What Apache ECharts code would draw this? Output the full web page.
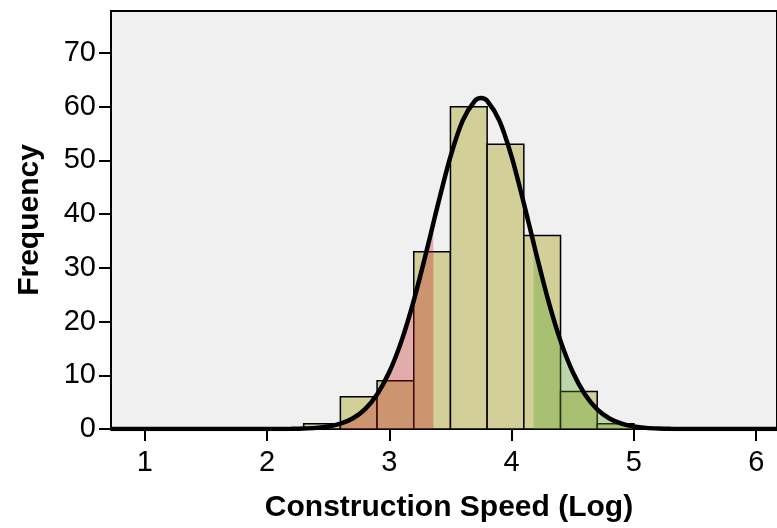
<html lang="en">
<head>
    <meta charset="UTF-8">
    <title>Construction Speed histogram</title>
    <script src="https://cdn.jsdelivr.net/npm/echarts@6/dist/echarts.min.js"></script>
</head>
<style>
    html, body { margin: 0; padding: 0; background: #fff; }
    #container { width: 777px; height: 528px; }
</style>
<body>
<div id="container"></div>
<script>
    // histogram bins (log construction speed), width 0.3
    var binStart = [2.3, 2.6, 2.9, 3.2, 3.5, 3.8, 4.1, 4.4, 4.7];
    var binEnd   = [2.6, 2.9, 3.2, 3.5, 3.8, 4.1, 4.4, 4.7, 5.0];
    var counts   = [1, 6, 9, 33, 60, 53, 36, 7, 1];

    // fitted normal curve
    var curveX = [0.72, 2.0, 2.1, 2.2, 2.3, 2.4, 2.5, 2.6, 2.7, 2.8, 2.9, 3.0, 3.1, 3.2, 3.3, 3.36, 3.4, 3.5, 3.6, 3.7, 3.75,
                  3.8, 3.9, 4.0, 4.1, 4.18, 4.2, 4.3, 4.4, 4.5, 4.6, 4.7, 4.8, 4.9, 5.0, 5.1, 5.2, 5.3, 5.4, 5.5, 6.17];
    var curveY = [0, 0, 0.01, 0.03, 0.09, 0.21, 0.47, 0.99, 1.96, 3.67, 6.44, 10.6, 16.4, 23.9, 32.7, 38.3, 42.0, 50.7, 57.4, 61.1, 61.6,
                  61.1, 57.4, 50.7, 42.0, 34.6, 32.7, 23.9, 16.4, 10.6, 6.44, 3.67, 1.96, 0.99, 0.47, 0.21, 0.09, 0.03, 0.01, 0, 0];

    // shaded tails (below mean - sd, above mean + sd)
    var lowTailStart = 2.6, lowTailEnd = 3.36;
    var highTailStart = 4.18, highTailEnd = 5.0;

    var xTicks = [1, 2, 3, 4, 5, 6];
    var yTicks = [0, 10, 20, 30, 40, 50, 60, 70];

    var chart = echarts.init(document.getElementById('container'));

    var bins = [];
    for (var i = 0; i < counts.length; i++) {
        bins.push([binStart[i], binEnd[i], counts[i]]);
    }
    var curve = [], lowTail = [], highTail = [];
    for (var j = 0; j < curveX.length; j++) {
        curve.push([curveX[j], curveY[j]]);
        if (curveX[j] >= lowTailStart && curveX[j] <= lowTailEnd) lowTail.push([curveX[j], curveY[j]]);
        if (curveX[j] >= highTailStart && curveX[j] <= highTailEnd) highTail.push([curveX[j], curveY[j]]);
    }

    var fontFamily = 'Liberation Sans, Arial, sans-serif';

    var option = {
        animation: false,
        grid: {
            left: 111,
            top: 11,
            right: 0,
            bottom: 98,
            show: true,
            backgroundColor: '#f0f0f0',
            borderColor: '#000',
            borderWidth: 2
        },
        xAxis: {
            type: 'value',
            min: 0.7245,
            max: 6.17,
            name: 'Construction Speed (Log)',
            nameLocation: 'middle',
            nameGap: 64,
            nameTextStyle: { fontFamily: fontFamily, fontSize: 30, fontWeight: 'bold', color: '#000', padding: [0, 0, 0, 10] },
            axisLine: { lineStyle: { color: '#000', width: 2 } },
            axisTick: { customValues: xTicks, length: 12, lineStyle: { color: '#000', width: 2 } },
            axisLabel: { customValues: xTicks, margin: 19, fontFamily: fontFamily, fontSize: 29, color: '#000' },
            splitLine: { show: false }
        },
        yAxis: {
            type: 'value',
            min: 0,
            max: 77.8,
            name: 'Frequency',
            nameLocation: 'middle',
            nameGap: 66,
            nameTextStyle: { fontFamily: fontFamily, fontSize: 30, fontWeight: 'bold', color: '#000' },
            axisLine: { show: true, lineStyle: { color: '#000', width: 2 } },
            axisTick: { show: true, customValues: yTicks, length: 12, lineStyle: { color: '#000', width: 2 } },
            axisLabel: { customValues: yTicks, margin: 15, fontFamily: fontFamily, fontSize: 29, color: '#000' },
            splitLine: { show: false }
        },
        series: [
            {
                type: 'custom',
                z: 2,
                encode: { x: [0, 1], y: 2 },
                data: bins,
                renderItem: function (params, api) {
                    var p0 = api.coord([api.value(0), api.value(2)]);
                    var p1 = api.coord([api.value(1), 0]);
                    return {
                        type: 'rect',
                        shape: { x: p0[0], y: p0[1], width: p1[0] - p0[0], height: p1[1] - p0[1] },
                        style: { fill: '#d3cf98', stroke: '#000', lineWidth: 1.5 }
                    };
                }
            },
            {
                type: 'line',
                z: 3,
                data: lowTail,
                smooth: 0.3,
                showSymbol: false,
                lineStyle: { width: 0 },
                areaStyle: { color: 'rgba(188,18,18,0.3)', opacity: 1 }
            },
            {
                type: 'line',
                z: 3,
                data: highTail,
                smooth: 0.3,
                showSymbol: false,
                lineStyle: { width: 0 },
                areaStyle: { color: 'rgba(85,158,37,0.33)', opacity: 1 }
            },
            {
                type: 'line',
                z: 4,
                data: curve,
                smooth: 0.3,
                showSymbol: false,
                lineStyle: { color: '#000', width: 4.5 }
            }
        ]
    };

    chart.setOption(option);
</script>
</body>
</html>
